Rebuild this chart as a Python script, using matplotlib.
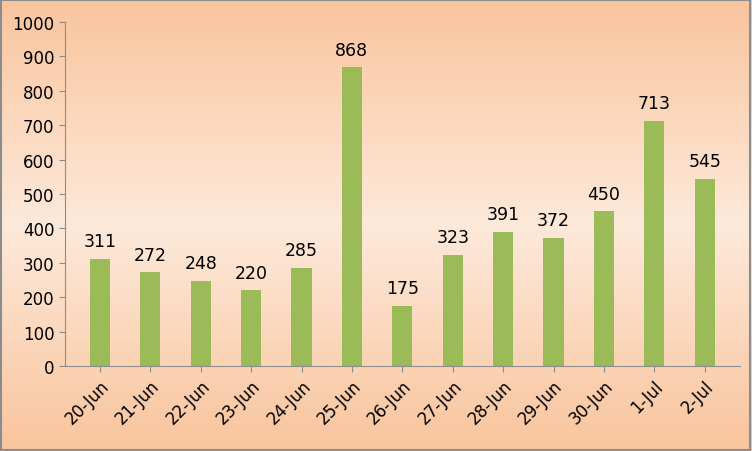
import matplotlib
matplotlib.use("Agg")
import matplotlib.pyplot as plt
import numpy as np
from matplotlib.colors import LinearSegmentedColormap

categories = ["20-Jun","21-Jun","22-Jun","23-Jun","24-Jun","25-Jun","26-Jun","27-Jun","28-Jun","29-Jun","30-Jun","1-Jul","2-Jul"]
values = [311,272,248,220,285,868,175,323,391,372,450,713,545]

fig = plt.figure(figsize=(7.52,4.52), dpi=100)
bg = fig.add_axes([0,0,1,1], zorder=0)
cmap = LinearSegmentedColormap.from_list("g", ["#F9C59D", "#FDE9DA", "#F9C59D"])
grad = np.linspace(0,1,300).reshape(-1,1)
bg.imshow(grad, aspect="auto", cmap=cmap, extent=[0,1,0,1])
bg.set_axis_off()
bg.add_patch(plt.Rectangle((0.001,0.002),0.997,0.995, fill=False, edgecolor="#8C8C8C", lw=1.5, transform=bg.transAxes))

ax = fig.add_axes([0.086,0.188,0.898,0.761], zorder=1)
ax.patch.set_alpha(0)
x = np.arange(len(categories))
ax.bar(x, values, width=0.4, color="#9BBB59")
for xi, v in zip(x, values):
    ax.text(xi, v+25, str(v), ha="center", va="bottom", fontsize=12.5, fontfamily="DejaVu Sans")
ax.set_ylim(0,1000)
ax.set_xlim(-0.7, len(categories)-0.3)
ax.set_yticks(range(0,1001,100))
ax.set_xticks(x)
ax.set_xticklabels(categories, rotation=45, ha="right", rotation_mode="anchor")
ax.tick_params(labelsize=12, color="#8C8C8C", length=4)
for s in ["top","right"]:
    ax.spines[s].set_visible(False)
for s in ["left","bottom"]:
    ax.spines[s].set_color("#8C8C8C")
fig.savefig("out.png", dpi=100)
